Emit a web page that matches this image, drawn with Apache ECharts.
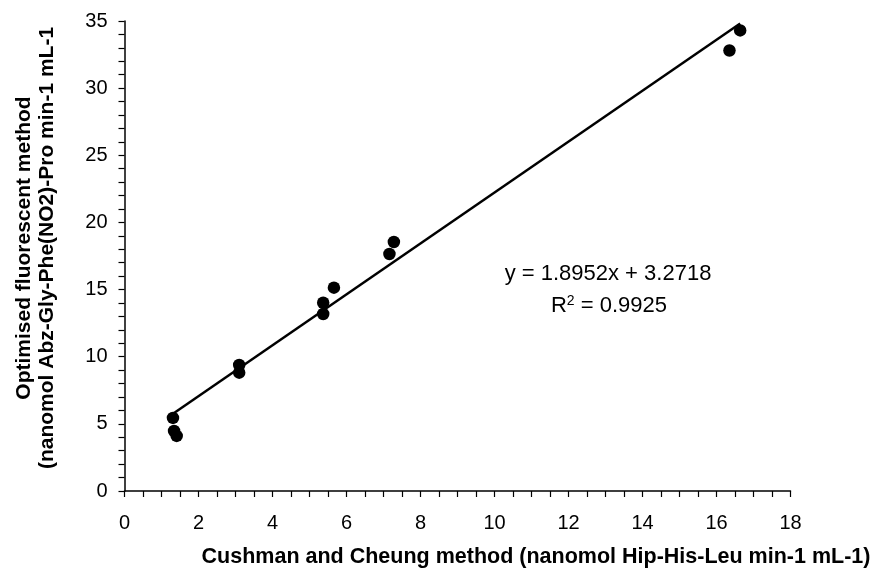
<!DOCTYPE html>
<html>
<head>
<meta charset="utf-8">
<script src="https://cdn.jsdelivr.net/npm/echarts@6/dist/echarts.min.js"></script>
<style>
  html, body { margin: 0; padding: 0; background: #fff; }
  #chart { width: 874px; height: 569px; }
</style>
</head>
<body>
<div id="chart"></div>
<script>
// Activity by the Cushman & Cheung method (x) vs the optimised fluorescent method (y)
const cushmanX = [1.31, 1.34, 1.41, 3.10, 3.10, 5.37, 5.37, 5.66, 7.16, 7.28, 16.35, 16.64];
const fluorescentY = [5.44, 4.47, 4.10, 9.38, 8.81, 14.02, 13.18, 15.14, 17.65, 18.54, 32.8, 34.3];

// Linear fit reported for the data
const slope = 1.8952;
const intercept = 3.2718;
const rSquared = 0.9925;

const xTicks = { min: 0, max: 18, interval: 2 };
const yTicks = { min: 0, max: 35, interval: 5 };

const points = cushmanX.map((x, i) => [x, fluorescentY[i]]);
const xLo = Math.min(...cushmanX), xHi = Math.max(...cushmanX);
const fitLine = [[xLo, slope * xLo + intercept], [xHi, slope * xHi + intercept]];

const font = '"Liberation Sans", Arial, sans-serif';
const chart = echarts.init(document.getElementById('chart'), null, { renderer: 'canvas' });

chart.setOption({
  animation: false,
  backgroundColor: '#fff',
  grid: { left: 124.5, right: 83.5, top: 21, bottom: 78 },
  xAxis: {
    type: 'value',
    min: xTicks.min, max: xTicks.max, interval: xTicks.interval,
    axisLine: { onZero: false, lineStyle: { color: '#000', width: 1.5 } },
    axisTick: { show: true, length: 6, lineStyle: { color: '#000', width: 1.2 } },
    minorTick: { show: true, splitNumber: 4, length: 6, lineStyle: { color: '#000', width: 1.2 } },
    splitLine: { show: false },
    axisLabel: { color: '#000', fontSize: 20, fontFamily: font, margin: 22 }
  },
  yAxis: {
    type: 'value',
    min: yTicks.min, max: yTicks.max, interval: yTicks.interval,
    axisLine: { show: true, onZero: false, lineStyle: { color: '#000', width: 1.5 } },
    axisTick: { show: true, length: 6, lineStyle: { color: '#000', width: 1.2 } },
    minorTick: { show: true, splitNumber: 5, length: 6, lineStyle: { color: '#000', width: 1.2 } },
    splitLine: { show: false },
    axisLabel: { color: '#000', fontSize: 20, fontFamily: font, margin: 17 }
  },
  series: [
    {
      type: 'line',
      data: fitLine,
      symbol: 'none',
      lineStyle: { color: '#000', width: 2.5 },
      z: 2
    },
    {
      type: 'scatter',
      data: points,
      symbol: 'circle',
      symbolSize: 12.5,
      itemStyle: { color: '#000', opacity: 1 },
      z: 3
    }
  ],
  graphic: [
    {
      type: 'text',
      x: 536, y: 557,
      style: {
        text: 'Cushman and Cheung method (nanomol Hip-His-Leu min-1 mL-1)',
        fontFamily: font, fontSize: 21.5, fontWeight: 'bold', fill: '#000',
        textAlign: 'center', textVerticalAlign: 'middle'
      }
    },
    {
      type: 'text',
      x: 35.5, y: 248,
      rotation: Math.PI / 2,
      style: {
        text: 'Optimised fluorescent method\n(nanomol Abz-Gly-Phe(NO2)-Pro min-1 mL-1',
        fontFamily: font, fontSize: 21, fontWeight: 'bold', fill: '#000',
        textAlign: 'center', textVerticalAlign: 'middle', lineHeight: 23
      }
    },
    {
      type: 'text',
      x: 608, y: 274,
      style: {
        text: 'y = ' + slope + 'x + ' + intercept,
        fontFamily: font, fontSize: 22, fill: '#000',
        textAlign: 'center', textVerticalAlign: 'middle'
      }
    },
    {
      type: 'text',
      x: 609, y: 306,
      style: {
        text: '{r|R}{sup|2}{r| = ' + rSquared + '}',
        textAlign: 'center', textVerticalAlign: 'middle',
        rich: {
          r: { fontFamily: font, fontSize: 22, color: '#000' },
          sup: { fontFamily: font, fontSize: 14, color: '#000', verticalAlign: 'top', padding: [0, 0, 10, 0] }
        }
      }
    }
  ]
});
</script>
</body>
</html>
